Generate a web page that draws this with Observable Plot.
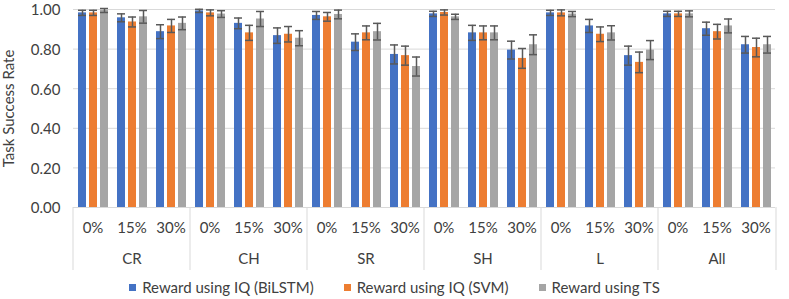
<!DOCTYPE html>
<html>
<head>
<meta charset="utf-8">
<script src="https://cdn.jsdelivr.net/npm/d3@7"></script>
<script src="https://cdn.jsdelivr.net/npm/@observablehq/plot@0.6"></script>
<style>
  html, body { margin: 0; padding: 0; background: #fff; }
  body { width: 789px; height: 299px; overflow: hidden; font-family: Lato, "Open Sans", sans-serif; }
  #legend { display: flex; justify-content: center; gap: 30px; font-size: 15px; color: #404040; height: 24px; align-items: center; margin-left: 0; }
  #legend .item { display: flex; align-items: center; gap: 6px; }
  #legend .sw { width: 7px; height: 7px; display: inline-block; }
</style>
</head>
<body>
<div id="chart"></div>
<div id="legend"></div>
<script>
const groups = ["CR", "CH", "SR", "SH", "L", "All"];
const levels = ["0%", "15%", "30%"];
const series = ["Reward using IQ (BiLSTM)", "Reward using IQ (SVM)", "Reward using TS"];
const colors = ["#4472C4", "#ED7D31", "#A5A5A5"];

// values per series, ordered group by group, level by level
const bilstm = [0.983, 0.958, 0.888,  0.993, 0.930, 0.868,  0.970, 0.835, 0.773,  0.978, 0.882, 0.795,  0.983, 0.917, 0.767,  0.978, 0.903, 0.822];
const svm    = [0.983, 0.937, 0.917,  0.983, 0.882, 0.875,  0.963, 0.882, 0.767,  0.985, 0.882, 0.753,  0.983, 0.875, 0.733,  0.978, 0.888, 0.808];
const ts     = [0.995, 0.963, 0.930,  0.977, 0.952, 0.855,  0.975, 0.888, 0.712,  0.963, 0.882, 0.822,  0.977, 0.882, 0.795,  0.978, 0.917, 0.822];

const bilstmErr = [0.013, 0.020, 0.035,  0.008, 0.027, 0.039,  0.020, 0.042, 0.048,  0.013, 0.038, 0.045,  0.013, 0.033, 0.048,  0.013, 0.033, 0.042];
const svmErr    = [0.013, 0.025, 0.033,  0.015, 0.038, 0.039,  0.022, 0.035, 0.048,  0.013, 0.035, 0.050,  0.015, 0.037, 0.052,  0.013, 0.037, 0.047];
const tsErr     = [0.010, 0.032, 0.032,  0.017, 0.038, 0.038,  0.022, 0.042, 0.048,  0.013, 0.035, 0.050,  0.013, 0.036, 0.048,  0.015, 0.035, 0.042];

const yTicks = [0, 0.2, 0.4, 0.6, 0.8, 1.0];

// build table
const seriesValues = [bilstm, svm, ts];
const seriesErrors = [bilstmErr, svmErr, tsErr];
const keys = [];
groups.forEach(g => levels.forEach(l => keys.push(g + "|" + l)));
const rows = [];
keys.forEach((k, i) => {
  series.forEach((s, j) => {
    const v = seriesValues[j][i], e = seriesErrors[j][i];
    rows.push({key: k, series: s, value: v, lo: v - e, hi: v + e});
  });
});
const firstKeys = groups.map(g => g + "|" + levels[0]);
const midKeys = groups.map(g => g + "|" + levels[1]);
const lastKey = [keys[keys.length - 1]];

const textColor = "#404040";
const chart = Plot.plot({
  width: 789,
  height: 275,
  marginLeft: 64,
  marginRight: 6,
  marginTop: 9,
  marginBottom: 68,
  style: {fontFamily: "Lato, 'Open Sans', sans-serif", fontSize: "15px", color: textColor, background: "#fff"},
  fx: {domain: keys, padding: 0},
  x: {domain: series, paddingInner: 0.29, paddingOuter: 0.415},
  y: {domain: [0, 1], ticks: yTicks},
  color: {domain: series, range: colors},
  marks: [
    Plot.gridY(yTicks, {stroke: "#D9D9D9", strokeOpacity: 1}),
    Plot.axisY(yTicks, {tickFormat: d3.format(".2f"), tickSize: 0, tickPadding: 13, fontSize: 15, dy: 1,
      label: "Task Success Rate", labelAnchor: "center", labelArrow: "none", labelOffset: 70}),
    Plot.axisX({ticks: [], label: null}),
    Plot.axisFx({anchor: "bottom", tickSize: 0, tickPadding: 15, tickFormat: k => k.split("|")[1], label: null, fontSize: 15}),
    Plot.axisFx({anchor: "bottom", ticks: midKeys, tickSize: 0, tickPadding: 46, tickFormat: k => k.split("|")[0], label: null, fontSize: 15}),
    Plot.axisFx({anchor: "bottom", ticks: firstKeys, tickSize: 63, tickFormat: () => "", dx: -20, stroke: "#D9D9D9", strokeOpacity: 1, label: null}),
    Plot.axisFx({anchor: "bottom", ticks: lastKey, tickSize: 63, tickFormat: () => "", dx: 20, stroke: "#D9D9D9", strokeOpacity: 1, label: null}),
    Plot.barY(rows, {fx: "key", x: "series", y: "value", fill: "series"}),
    Plot.ruleX(rows, {fx: "key", x: "series", y1: "lo", y2: "hi", stroke: "#595959", strokeWidth: 1.5}),
    Plot.tickY(rows, {fx: "key", x: "series", y: "lo", stroke: "#595959", strokeWidth: 1.5}),
    Plot.tickY(rows, {fx: "key", x: "series", y: "hi", stroke: "#595959", strokeWidth: 1.5})
  ]
});
document.getElementById("chart").appendChild(chart);

const legend = document.getElementById("legend");
series.forEach((s, i) => {
  const item = document.createElement("span");
  item.className = "item";
  const sw = document.createElement("span");
  sw.className = "sw";
  sw.style.background = colors[i];
  const t = document.createElement("span");
  t.textContent = s;
  item.appendChild(sw);
  item.appendChild(t);
  legend.appendChild(item);
});
</script>
</body>
</html>
